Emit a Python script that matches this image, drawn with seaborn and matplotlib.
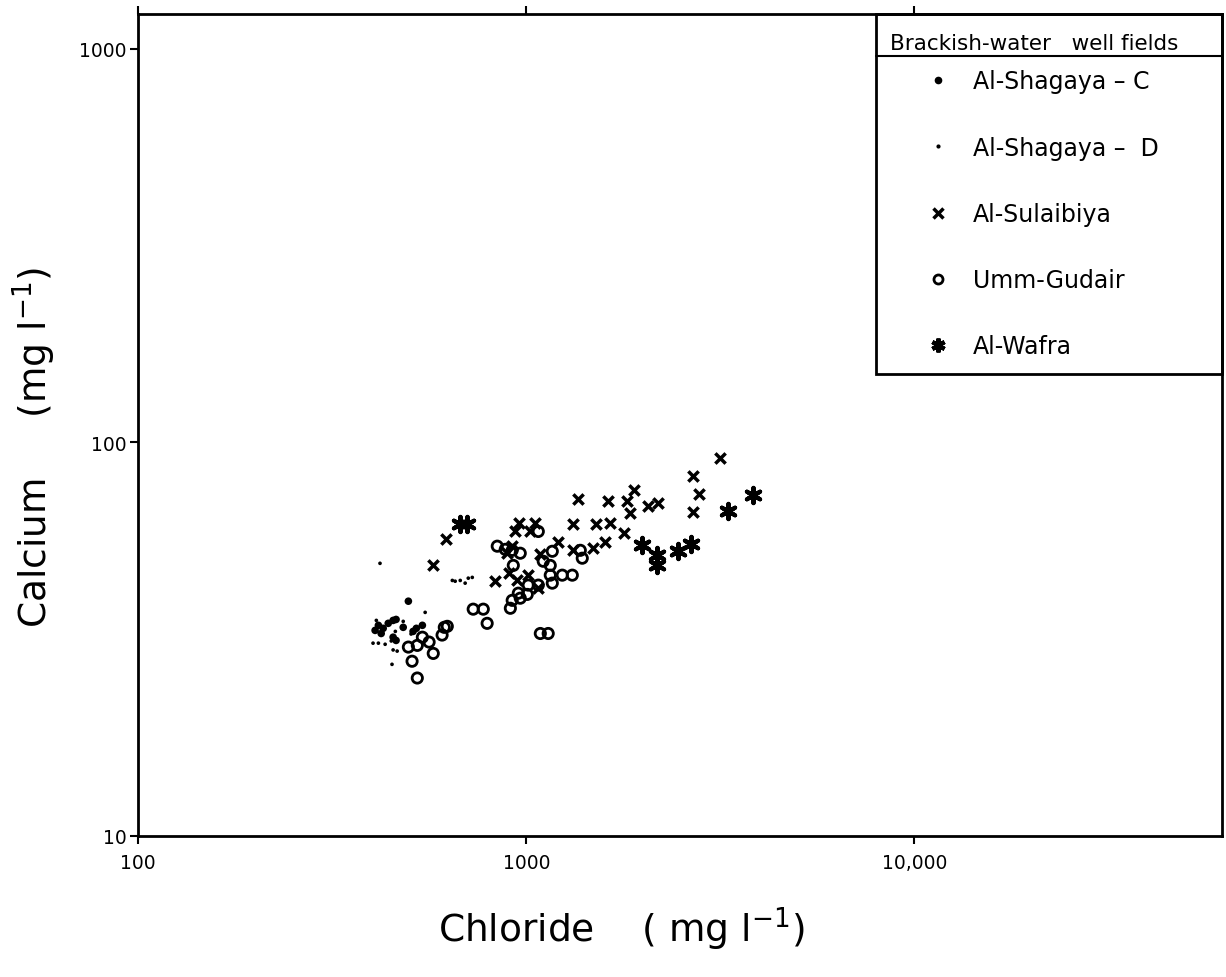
import matplotlib
matplotlib.use('Agg')
import matplotlib.pyplot as plt
import seaborn as sns
from matplotlib.lines import Line2D
from matplotlib.patches import Rectangle

# Chloride (mg/l) and Calcium (mg/l)
shagaya_c_cl = [497, 416, 428, 408, 423, 441, 454, 482, 511, 521, 540, 462, 454, 462]
shagaya_c_ca = [39.5, 34.3, 33.7, 33.3, 32.7, 34.7, 35.3, 33.9, 33.1, 33.7, 34.3, 31.4, 32.0, 35.5]

shagaya_d_cl = [549, 411, 482, 403, 416, 433, 454, 465, 451, 505, 449, 460,
                645, 656, 676, 696, 709, 726, 420]
shagaya_d_ca = [37.0, 35.3, 35.1, 30.9, 30.9, 30.7, 29.7, 29.5, 27.3, 32.6, 31.3, 33.1,
                44.6, 44.4, 44.6, 43.9, 45.2, 45.4, 49.3]

sulaibiya_cl = [576, 622, 832, 894, 904, 920, 937, 959, 948, 1012,
                1024, 1055, 1074, 1087, 1209, 1322, 1322, 1362, 1488, 1515,
                1598, 1627, 1646, 1789, 1821, 1854, 1898, 2063, 2189, 2694,
                2792, 2694, 3162]
sulaibiya_ca = [48.7, 57.0, 44.4, 52.3, 46.5, 54.5, 59.4, 62.3, 44.6, 46.0,
                59.4, 62.3, 42.6, 52.0, 55.8, 61.9, 53.2, 71.7, 53.8, 61.9,
                55.8, 70.8, 62.3, 58.7, 71.2, 66.0, 75.5, 68.8, 70.0, 82.0,
                73.8, 66.4, 91.1]

umm_gudair_cl = [524, 508, 576, 497, 524, 562, 540, 607, 626, 615,
                 730, 775, 793, 842, 883, 920, 965, 926, 954, 1006,
                 920, 965, 910, 1012, 1074, 1167, 1153, 1238, 1314, 1106,
                 1153, 1167, 1074, 1378, 1394, 1087, 1139]
umm_gudair_ca = [25.2, 27.8, 29.1, 30.2, 30.5, 31.1, 32.0, 32.4, 34.1, 33.9,
                 37.7, 37.7, 34.7, 54.5, 53.5, 53.2, 52.3, 48.7, 41.4, 41.1,
                 39.7, 40.2, 37.9, 43.4, 43.4, 43.9, 46.0, 46.0, 46.0, 49.9,
                 48.7, 52.9, 59.4, 53.2, 50.8, 32.7, 32.7]

wafra_cl = [676, 704, 1991, 2176, 2176, 2465, 2663, 3316, 3846]
wafra_ca = [61.9, 61.9, 54.8, 51.7, 48.7, 52.9, 55.1, 66.8, 73.4]

field_names = ['Al-Shagaya – C', 'Al-Shagaya –  D', 'Al-Sulaibiya', 'Umm-Gudair', 'Al-Wafra']
x_ticks = [100, 1000, 10000]
x_tick_labels = ['100', '1000', '10,000']
y_ticks = [10, 100, 1000]
y_tick_labels = ['10', '100', '1000']

asterisk = (6, 2, 0)

sns.set_style('ticks')
plt.rcParams['font.family'] = ['DejaVu Sans']
plt.rcParams['text.color'] = 'black'
plt.rcParams['axes.labelcolor'] = 'black'
plt.rcParams['xtick.color'] = 'black'
plt.rcParams['ytick.color'] = 'black'
plt.rcParams['mathtext.default'] = 'regular'

fig = plt.figure(figsize=(12.26, 9.78), dpi=100)
ax = fig.add_axes([0.1126, 0.1442, 0.8842, 0.8405])

# one call per well field (seaborn won't mix filled and line markers in one call)
sns.scatterplot(x=shagaya_c_cl, y=shagaya_c_ca, marker='o', s=30, color='black',
                edgecolor='none', ax=ax)
sns.scatterplot(x=shagaya_d_cl, y=shagaya_d_ca, marker='o', s=7, color='black',
                edgecolor='none', ax=ax)
sns.scatterplot(x=sulaibiya_cl, y=sulaibiya_ca, marker='x', s=55, color='black',
                linewidth=2.5, ax=ax)
sns.scatterplot(x=umm_gudair_cl, y=umm_gudair_ca, marker='o', s=55, facecolor='none',
                edgecolor='black', linewidth=2, ax=ax)
sns.scatterplot(x=wafra_cl, y=wafra_ca, marker=asterisk, s=120, color='black',
                linewidth=3, ax=ax)

ax.set_xscale('log')
ax.set_yscale('log')
ax.set_xlim(100, 62000)
ax.set_ylim(10, 1227)
ax.set_xticks(x_ticks, x_tick_labels)
ax.set_yticks(y_ticks, y_tick_labels)
ax.minorticks_off()
ax.tick_params(axis='both', which='major', direction='out', length=6, width=1.5,
               labelsize=13.5)
ax.tick_params(axis='x', top=True, pad=6)
ax.tick_params(axis='y', pad=2)
for sp in ax.spines.values():
    sp.set_linewidth(2)
    sp.set_color('black')

ax.set_xlabel('Chloride    ( mg l$^{-1}$)', fontsize=27)
ax.xaxis.set_label_coords(0.446, -0.083)
ax.set_ylabel('Calcium     (mg l$^{-1}$)', fontsize=27)
ax.yaxis.set_label_coords(-0.074, 0.474)

# legend box, header and underline
ax.add_patch(Rectangle((0.6808, 0.562), 0.3192, 0.438, transform=ax.transAxes,
                       fill=False, lw=2, ec='black', clip_on=False, zorder=5))
ax.text(0.6937, 0.9647, 'Brackish-water   well fields', transform=ax.transAxes,
        fontsize=15.5, va='center', ha='left')
ax.plot([0.6808, 1.0], [0.949, 0.949], transform=ax.transAxes, color='black',
        lw=1.5, clip_on=False)

handles = [
    Line2D([], [], ls='none', marker='o', markersize=5.5, color='black', mec='none'),
    Line2D([], [], ls='none', marker='o', markersize=3, color='black', mec='none'),
    Line2D([], [], ls='none', marker='x', markersize=6.5, color='black', mew=2.5),
    Line2D([], [], ls='none', marker='o', markersize=6.5, mfc='none', mec='black', mew=2),
    Line2D([], [], ls='none', marker=asterisk, markersize=10, color='black', mew=3),
]
ax.legend(handles, field_names, loc='upper left', bbox_to_anchor=(0.7271, 0.9326),
          frameon=False, fontsize=17, handlelength=1.0, handletextpad=0.98,
          labelspacing=1.79, borderpad=0, borderaxespad=0, labelcolor='black')

fig.savefig('out.png', dpi=100)
